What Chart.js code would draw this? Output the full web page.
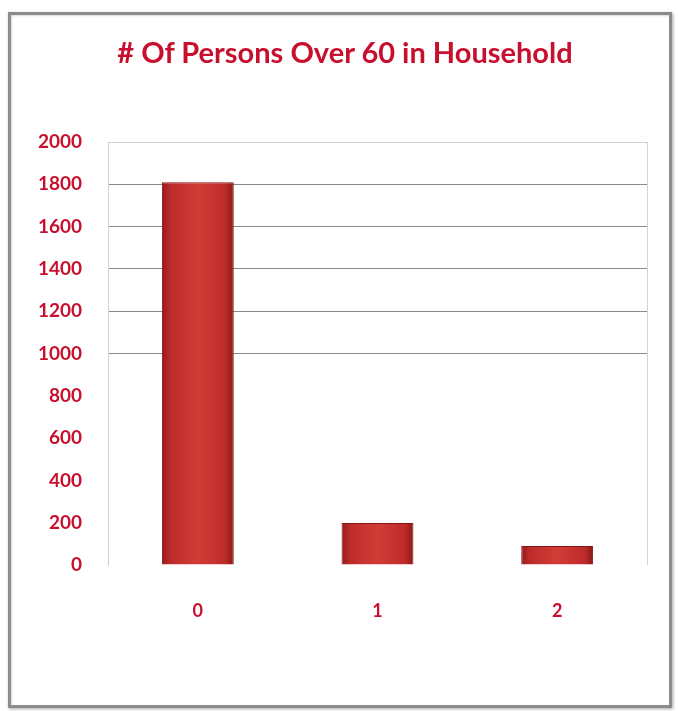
<!DOCTYPE html>
<html>
<head>
<meta charset="utf-8">
<script src="https://cdn.jsdelivr.net/npm/chart.js@4/dist/chart.umd.min.js"></script>
<style>
  html, body { margin: 0; padding: 0; background: #ffffff; }
  body { width: 678px; height: 711px; position: relative; overflow: hidden; }
  #frame {
    position: absolute; left: 8px; top: 12px; width: 658px; height: 690px;
    border: 3px solid #8c8c8c;
    box-shadow: 1px 1px 3px rgba(0,0,0,0.35), inset 1px 1px 2px rgba(0,0,0,0.15);
    background: #ffffff;
  }
  #wrap { position: absolute; left: 0; top: 0; width: 678px; height: 711px; }
  #title {
    position: absolute; left: 0; top: 34px; width: 690px; height: 35px;
    line-height: 35px; text-align: center; white-space: nowrap;
    font-family: 'Lato', sans-serif; font-weight: bold; font-size: 29px;
    color: #c8102e;
  }
</style>
</head>
<body>
<div id="frame"></div>
<div id="wrap"><canvas id="chart" width="678" height="711"></canvas></div>
<div id="title"></div>
<script>
// Households by number of persons over 60
const categories = ['0', '1', '2'];
const households = [1810, 199, 90];
const yTicks = [0, 200, 400, 600, 800, 1000, 1200, 1400, 1600, 1800, 2000];
const chartTitle = '# Of Persons Over 60 in Household';

const RED_TEXT = '#c8102e';
const BAR_PCT = 0.4;

document.getElementById('title').textContent = chartTitle;

// Horizontal shading across each bar, built from the scale's own pixel positions
function barGradient(ctx) {
  const chart = ctx.chart;
  const xs = chart.scales.x;
  if (!xs || !chart.chartArea || ctx.dataIndex === undefined) return '#c8302e';
  const center = xs.getPixelForValue(ctx.dataIndex);
  const half = (xs.width / categories.length) * BAR_PCT / 2;
  const g = chart.ctx.createLinearGradient(center - half, 0, center + half, 0);
  g.addColorStop(0, '#951a1a');
  g.addColorStop(0.12, '#bd2c2a');
  g.addColorStop(0.5, '#d23c37');
  g.addColorStop(0.88, '#bd2c2a');
  g.addColorStop(1, '#8a1717');
  return g;
}

// Thin frame line on the right edge of the plot area
const rightEdge = {
  id: 'rightEdge',
  beforeDatasetsDraw(chart) {
    const { ctx, chartArea } = chart;
    ctx.save();
    ctx.strokeStyle = '#d4d4d4';
    ctx.lineWidth = 1;
    ctx.beginPath();
    ctx.moveTo(Math.round(chartArea.right) + 0.5, chartArea.top);
    ctx.lineTo(Math.round(chartArea.right) + 0.5, chartArea.bottom);
    ctx.stroke();
    ctx.restore();
  }
};

new Chart(document.getElementById('chart'), {
  type: 'bar',
  data: {
    labels: categories,
    datasets: [{
      data: households,
      backgroundColor: barGradient,
      borderColor: '#861616',
      borderWidth: 1,
      barPercentage: BAR_PCT,
      categoryPercentage: 1
    }]
  },
  options: {
    responsive: false,
    animation: false,
    layout: { padding: { left: 0, right: 31, top: 142, bottom: 0 } },
    plugins: {
      legend: { display: false },
      tooltip: { enabled: false },
      title: { display: false }
    },
    scales: {
      x: {
        grid: { display: false, drawTicks: false },
        border: { display: false },
        ticks: {
          color: RED_TEXT,
          font: { family: 'Lato', size: 18, weight: 'bold' },
          padding: 35
        },
        afterFit(scale) { scale.height = 146; }
      },
      y: {
        min: 0,
        max: 2000,
        afterBuildTicks(scale) { scale.ticks = yTicks.map(v => ({ value: v })); },
        grid: {
          drawTicks: false,
          lineWidth: 1,
          color(ctx) {
            const v = ctx.tick && ctx.tick.value;
            if (v === 2000) return '#cfcfcf';
            if (v >= 1000) return '#8a8a8a';
            return 'rgba(0,0,0,0)';
          }
        },
        border: { display: true, color: '#cfcfcf' },
        ticks: {
          color: RED_TEXT,
          font: { family: 'Lato', size: 19, weight: 'bold' },
          padding: 26,
          callback: v => String(v)
        },
        afterFit(scale) { scale.width = 108; }
      }
    }
  },
  plugins: [rightEdge]
});
</script>
</body>
</html>
